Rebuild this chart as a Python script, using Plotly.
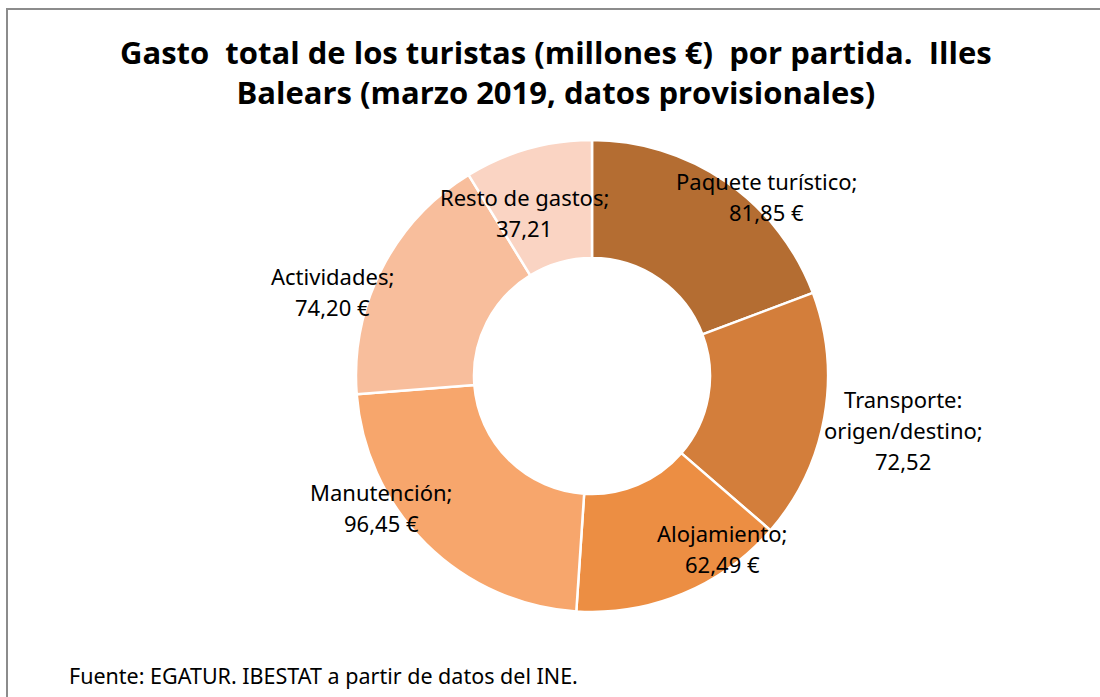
import plotly.graph_objects as go

W, H = 1100, 697

categories = ["Paquete turístico", "Transporte:|origen/destino", "Alojamiento",
              "Manutención", "Actividades", "Resto de gastos"]
values = [81.85, 72.52, 62.49, 96.45, 74.20, 37.21]
units = [" €", "", " €", " €", " €", ""]
colors = ["#B46D32", "#D37E3B", "#EC8E43", "#F7A66C", "#F8BE9C", "#FAD4C3"]

# label anchor positions (pixels) mimicking the reference's best-fit placement
label_px = [(766, 196), (903, 430), (722, 548), (381, 507), (332, 291), (524, 212)]
LINE_H = 31

cx, cy, R = 592, 376, 236

def fmt(v):
    return f"{v:.2f}".replace(".", ",")

fig = go.Figure(go.Pie(
    labels=[c.replace("|", " ") for c in categories],
    values=values,
    hole=0.5,
    sort=False,
    direction="clockwise",
    rotation=0,
    marker=dict(colors=colors, line=dict(color="#FFFFFF", width=2.5)),
    textinfo="none",
    hoverinfo="label+value",
    showlegend=False,
    domain=dict(x=[(cx - R) / W, (cx + R) / W], y=[(H - cy - R) / H, (H - cy + R) / H]),
))

for cat, v, u, (px, py) in zip(categories, values, units, label_px):
    lines = (cat + ";").split("|") + [fmt(v) + u]
    n = len(lines)
    for i, ln in enumerate(lines):
        ly = py + (i - (n - 1) / 2) * LINE_H
        fig.add_annotation(
            x=px / W, y=1 - ly / H, xref="paper", yref="paper",
            text=ln, showarrow=False,
            font=dict(family="Noto Sans", size=22, color="#000000"),
            align="center", xanchor="center", yanchor="middle",
        )

fig.add_annotation(
    x=556 / W, y=1 - 72 / H, xref="paper", yref="paper",
    text="<b>Gasto  total de los turistas (millones €)  por partida.  Illes<br>Balears (marzo 2019, datos provisionales)</b>",
    showarrow=False, align="center", xanchor="center", yanchor="middle",
    font=dict(family="Open Sans", size=31, color="#000000"),
)

fig.add_annotation(
    x=67 / W, y=1 - 675 / H, xref="paper", yref="paper",
    text="Fuente: EGATUR. IBESTAT a partir de datos del INE.",
    showarrow=False, align="left", xanchor="left", yanchor="middle",
    font=dict(family="Noto Sans", size=21.5, color="#000000"),
)

fig.add_shape(type="rect", xref="paper", yref="paper",
              x0=7 / W, x1=1.02, y0=-0.02, y1=1 - 9 / H,
              line=dict(color="#8C8C8C", width=2), fillcolor="rgba(0,0,0,0)")

fig.update_layout(
    width=W, height=H,
    margin=dict(l=0, r=0, t=0, b=0),
    paper_bgcolor="#FFFFFF", plot_bgcolor="#FFFFFF",
)

fig.write_html("out.html", config={"displayModeBar": False},
               post_script="document.body.style.margin='0';document.body.style.overflow='hidden';")
